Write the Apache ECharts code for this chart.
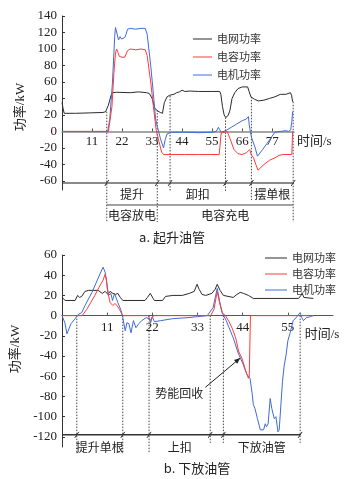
<!DOCTYPE html>
<html>
<head>
<meta charset="utf-8">
<script src="https://cdn.jsdelivr.net/npm/echarts@6/dist/echarts.min.js"></script>
<style>
html,body{margin:0;padding:0;background:#fff;}
#main{width:354px;height:479px;}
</style>
</head>
<body>
<div id="main"></div>
<script>
var seriesNames = ['电网功率', '电容功率', '电机功率'];
var lineColors = ['#2b2b2b', '#ff3a3a', '#3f6bd6'];

// a. 起升油管  [时间/s, 功率/kW]
var liftGrid = [[0,35],[0.4,28],[0.8,22],[5,22],[10,22.5],[15,23],[16,24],[17,32],[18,44],[18.5,47],[20,47.5],[25,47],[28,48],[31,47],[32,46],[33,40],[34,28],[35,25],[36,23],[36.8,22],[37.5,35],[38.5,42],[39.5,44],[41,45],[42,47],[43,48],[44,50],[45,48.5],[47,49],[50,48.5],[55,48.5],[57.8,48.5],[58.2,45],[58.8,30],[59.4,20],[60,17],[60.8,19],[61.5,25],[62.3,40],[63.3,47],[64.5,52],[66,54],[68,54],[68.6,48],[69.2,42],[70.5,39],[72,37],[74,38],[76,40],[78,42],[80,45],[82,45],[83.7,47],[84.1,44],[84.5,36]];
var liftCap = [[0,0],[17,0],[17.6,2],[18.3,30],[19,70],[19.6,95],[20,100],[20.5,96],[21,91],[22,90],[23,90],[23.5,92],[24,98],[25,100],[27,99],[29,100],[30.5,99],[31.2,92],[32.5,60],[33.5,30],[34.5,2],[35.5,-12],[36.5,-25],[37.2,-28],[45,-28],[50,-28],[57.6,-28],[58.3,-2],[58.6,0],[60.5,0],[61.5,-8],[63,-22],[64.5,-27],[66,-28],[67.5,-26],[68.8,-22],[69.3,-28],[70.2,-32],[71,-40],[71.8,-47],[72.5,-45],[74,-40],[76,-35],[78,-32],[79.5,-29],[81,-28],[84.2,-28],[84.5,0]];
var liftMotor = [[0,0],[16,0],[16.8,1],[17.5,15],[18.5,60],[19.3,115],[19.6,126],[20.2,118],[20.7,111],[21.3,115],[21.8,112],[22.3,114],[23,114],[23.5,118],[24,124],[25,125],[27,124],[29,125],[30.5,125],[31.2,118],[32.5,80],[33.5,45],[34.3,15],[35,5],[36,-8],[37.2,-20],[37.8,-10],[38.5,-3],[40,-1],[45,-1],[50,-1.5],[55,-1],[56.5,0],[57.3,5],[57.8,2],[58.3,-1],[59,0],[60,1],[62,5],[64,9],[66,13],[67.5,15],[68.3,18],[68.6,8],[69,0],[69.5,-8],[70.2,-10],[70.8,-20],[71.6,-30],[72.2,-28],[73.5,-22],[75,-15],[76.5,-8],[78,-1],[80,0],[82,1],[83,0],[83.8,2],[84.2,12],[84.5,24]];
var liftXTicks = [11, 22, 33, 44, 55, 66, 77];
var liftYTicks = [-60, -40, -20, 0, 20, 40, 60, 80, 100, 120, 140];
var liftPhaseX = [16.4, 34.9, 39.6, 59.9, 69.4, 84.7];
var liftDashFrom = [24, 26, 43, 17, 42, 36];
var liftRow1 = [['提升', 0, 1], ['卸扣', 2, 3], ['摆单根', 4, 5]];
var liftRow2 = [['电容放电', 0, 1], ['电容充电', 1, 5]];

// b. 下放油管
var lowerGrid = [[0,18],[0.8,15],[3.2,15],[3.8,20],[4.3,18],[4.8,19],[5.6,24],[6.5,25],[8.8,25],[9.8,22],[10.5,24],[11.2,21],[11.7,24],[12.4,22],[13,21],[13.6,22],[14.2,18],[14.8,15],[20.2,15],[20.8,18],[21.5,22],[22.2,17],[22.5,15],[24.5,15],[25.2,19],[27,20],[29.3,20],[31,22],[32.2,24],[32.9,31],[33.4,26],[34.1,21],[35,20],[36.5,22],[37.3,26],[37.8,31],[38.5,25],[39.3,20],[41.7,18],[42.6,21],[43.4,23],[44.2,22],[45.4,20],[46.6,17],[57.6,17],[58.2,20],[58.5,22],[58.9,18],[59.3,17],[61.2,17]];
var lowerCap = [[0,0],[4.9,0],[6,6],[7,13],[8,20],[9,28],[10,35],[10.5,41],[10.8,36],[11,27],[11.7,13],[12.4,10],[12.9,12],[13.4,10],[14,6],[14.4,3],[14.8,0],[21,0],[21.5,-5],[22,-1],[22.5,0],[36.2,0],[37,6],[37.8,24],[38.3,14],[39,3],[39.8,0],[40.7,-6],[41.5,-13],[42.3,-22],[43,-35],[43.9,-43],[44.6,-53],[45.4,-62],[45.6,-60],[45.9,0],[61.2,0]];
var lowerMotor = [[0,0],[0.3,-1],[0.7,-7],[1.2,-18],[1.5,-19],[2.2,-8],[3.2,-3],[3.9,1],[4.8,3],[5.6,10],[7.3,23],[8.8,37],[10,48],[10.5,43],[11,30],[11.3,20],[11.9,22],[12.3,15],[12.8,22],[13.6,13],[14.4,5],[14.8,-2],[15.4,-15],[15.8,-7],[16.3,-8],[16.8,-17],[17.4,-5],[18,-12],[18.7,-8],[19.4,-5],[20.5,-2],[21.2,-3],[21.6,-7],[22,-1],[22.5,-6],[24,-5],[27,-3],[30.7,-2],[33,-1],[35.4,0],[36.8,8],[37.8,27],[38.4,14],[39,3],[40,-5],[40.7,-12],[41.7,-22],[42.9,-37],[44.1,-48],[45,-58],[45.8,-62],[46.3,-77],[46.6,-88],[47,-92],[47.6,-102],[48.3,-113],[49.1,-113],[49.5,-107],[49.8,-110],[50.2,-107],[50.7,-82],[51.1,-92],[51.7,-102],[52.1,-100],[52.6,-115],[52.9,-113],[53.7,-65],[54.1,-50],[54.6,-38],[55,-25],[55.5,-18],[56.3,-5],[57,-2],[58,3],[58.4,-2],[58.8,-5],[59.5,-2],[60.5,-1],[61.2,0]];
var lowerXTicks = [11, 22, 33, 44, 55];
var lowerYTicks = [-120, -100, -80, -60, -40, -20, 0, 20, 40, 60];
var lowerPhaseX = [3.6, 14.8, 21.2, 36.1, 39.3, 58.0];
var lowerRow = [['提升单根', 0, 1], ['上扣', 2, 3], ['下放油管', 4, 5]];
var recoverFrom = [34.9, -71];
var recoverTo = [43.4, -42];

var serif = "Liberation Serif, Noto Sans CJK SC, serif";
var cjk = "Noto Sans CJK SC, sans-serif";

var grids = [
    { left: 62, top: 16, width: 232, height: 174, outerBoundsMode: 'none' },
    { left: 62, top: 255, width: 271, height: 192, outerBoundsMode: 'none' }
];
var yRange = [[-71, 140], [-130, 60]];

var chart = echarts.init(document.getElementById('main'));

function xAxisOf(gi, max, ticks, nameAlign, nameGap, namePad) {
    // the time axis sits on y = 0, not at the bottom of the grid
    var zeroOffset = -grids[gi].height * (0 - yRange[gi][0]) / (yRange[gi][1] - yRange[gi][0]);
    return {
        type: 'value', gridIndex: gi, min: 0, max: max, offset: zeroOffset,
        axisLine: { onZero: false, lineStyle: { color: gi == 0 ? '#888' : '#555', width: gi == 0 ? 1.5 : 1 } },
        axisTick: { inside: true, length: 3, customValues: ticks, lineStyle: { color: '#555' } },
        axisLabel: { customValues: ticks, margin: gi == 0 ? 4 : 5, color: '#222', fontFamily: serif, fontSize: 13 },
        splitLine: { show: false },
        name: '时间/s', nameLocation: 'end', nameGap: nameGap,
        nameTextStyle: { color: '#222', fontFamily: serif, fontSize: 13, align: nameAlign, verticalAlign: 'top', padding: namePad }
    };
}
function yAxisOf(gi, ticks, namePad) {
    return {
        type: 'value', gridIndex: gi, min: yRange[gi][0], max: yRange[gi][1],
        axisLine: { show: true, onZero: false, lineStyle: { color: '#333' } },
        axisTick: { show: true, inside: true, length: 3, customValues: ticks, lineStyle: { color: '#333' } },
        axisLabel: { customValues: ticks, margin: 5, color: '#222', fontFamily: serif, fontSize: 13 },
        splitLine: { show: false },
        name: '功率/kW', nameLocation: 'middle', nameGap: 30,
        nameTextStyle: { color: '#222', fontFamily: serif, fontSize: 13, padding: namePad }
    };
}
function lineOf(name, data, gi, color) {
    return {
        name: name, type: 'line', xAxisIndex: gi, yAxisIndex: gi, data: data,
        symbol: 'none', showSymbol: false, smooth: false,
        lineStyle: { color: color, width: 1 }, itemStyle: { color: color }
    };
}
var legendItems = seriesNames.map(function (n, i) {
    return { name: n, itemStyle: { color: lineColors[i] } };
});

var option = {
    animation: false,
    backgroundColor: '#fff',
    grid: grids,
    legend: [
        { orient: 'vertical', left: 188, top: 27, icon: 'rect', itemWidth: 19, itemHeight: 1, itemGap: 4,
          data: legendItems, textStyle: { fontFamily: cjk, fontSize: 11, lineHeight: 14, color: '#333' } },
        { orient: 'vertical', left: 260, top: 247, icon: 'rect', itemWidth: 22, itemHeight: 1, itemGap: 4,
          data: legendItems, textStyle: { fontFamily: cjk, fontSize: 11, lineHeight: 12, color: '#333' } }
    ],
    xAxis: [
        xAxisOf(0, 85, liftXTicks, 'left', 3, [4, 0, 0, 0]),
        xAxisOf(1, 66, lowerXTicks, 'center', -11, [12, 0, 0, 0])
    ],
    yAxis: [
        yAxisOf(0, liftYTicks, [0, 8, 0, 0]),
        yAxisOf(1, lowerYTicks, [0, 0, 0, 4])
    ],
    series: [
        lineOf(seriesNames[0], liftGrid, 0, lineColors[0]),
        lineOf(seriesNames[2], liftMotor, 0, lineColors[2]),
        lineOf(seriesNames[1], liftCap, 0, lineColors[1]),
        lineOf(seriesNames[0], lowerGrid, 1, lineColors[0]),
        lineOf(seriesNames[2], lowerMotor, 1, lineColors[2]),
        lineOf(seriesNames[1], lowerCap, 1, lineColors[1])
    ]
};
chart.setOption(option);

// phase annotations below the curves
var g = [];
function px(gi, x, y) { return chart.convertToPixel({ gridIndex: gi }, [x, y]); }
function vline(x, y1, y2) {
    g.push({ type: 'line', shape: { x1: x, y1: y1, x2: x, y2: y2 }, style: { stroke: '#444', lineWidth: 1, lineDash: [1.5, 1.5] }, silent: true });
}
function hline(x1, x2, y, color, w) {
    g.push({ type: 'line', shape: { x1: x1, y1: y, x2: x2, y2: y }, style: { stroke: color, lineWidth: w }, silent: true });
}
function slash(x, y) {
    g.push({ type: 'line', shape: { x1: x - 2, y1: y + 3, x2: x + 2, y2: y - 3 }, style: { stroke: '#333', lineWidth: 1 }, silent: true });
}
function label(text, x, y, size) {
    g.push({ type: 'text', x: x, y: y, style: { text: text, fill: '#222', font: size + 'px ' + cjk, align: 'center', verticalAlign: 'middle' }, silent: true });
}

// a
var aLeft = px(0, 0, 0)[0], aRight = px(0, 85, 0)[0];
var aRowY = px(0, 0, -62.5)[1];
var aDashEnd = [aRowY + 39, aRowY + 39, aRowY + 8, aRowY + 8, aRowY + 17, aRowY + 39];
var aX = liftPhaseX.map(function (v, i) { return px(0, v, liftDashFrom[i]); });
hline(aLeft, aRight, aRowY, '#8a8a8a', 2);
hline(aX[0][0], aX[5][0], aRowY + 22, '#444', 1);
aX.forEach(function (p, i) { vline(p[0], p[1], aDashEnd[i]); slash(p[0], aRowY); });
liftRow1.forEach(function (r) { label(r[0], (aX[r[1]][0] + aX[r[2]][0]) / 2, aRowY + 11, 12); });
liftRow2.forEach(function (r) { label(r[0], (aX[r[1]][0] + aX[r[2]][0]) / 2, aRowY + 32, 12); });
label('a. 起升油管', 172, 237, 13);

// b
var bLeft = px(1, 0, 0)[0], bRight = px(1, 58, 0)[0];
var bRowY = px(1, 0, -118)[1];
var bDashEnd = [bRowY + 19, bRowY + 19, bRowY + 18, bRowY + 8, bRowY + 8, bRowY + 8];
var bX = lowerPhaseX.map(function (v) { return px(1, v, 0); });
hline(bLeft, bRight, bRowY, '#333', 1.5);
bX.forEach(function (p, i) { vline(p[0], p[1], bDashEnd[i]); slash(p[0], bRowY); });
lowerRow.forEach(function (r) { label(r[0], (bX[r[1]][0] + bX[r[2]][0]) / 2, bRowY + 13, 12); });
label('b. 下放油管', 197, 468, 13);

// 势能回收 arrow
var a0 = px(1, recoverFrom[0], recoverFrom[1]);
var a1 = px(1, recoverTo[0], recoverTo[1]);
g.push({ type: 'line', shape: { x1: a0[0], y1: a0[1], x2: a1[0], y2: a1[1] }, style: { stroke: '#222', lineWidth: 1 }, silent: true });
var dx = a1[0] - a0[0], dy = a1[1] - a0[1], len = Math.sqrt(dx * dx + dy * dy);
var ux = dx / len, uy = dy / len;
g.push({ type: 'polygon', shape: { points: [
    [a1[0], a1[1]],
    [a1[0] - 6 * ux - 2.5 * uy, a1[1] - 6 * uy + 2.5 * ux],
    [a1[0] - 6 * ux + 2.5 * uy, a1[1] - 6 * uy - 2.5 * ux]
] }, style: { fill: '#222' }, silent: true });
g.push({ type: 'text', x: a0[0] - 2, y: a0[1] + 6, style: { text: '势能回收', fill: '#222', font: '12px ' + cjk, align: 'right', verticalAlign: 'middle' }, silent: true });

chart.setOption({ graphic: g });
</script>
</body>
</html>
